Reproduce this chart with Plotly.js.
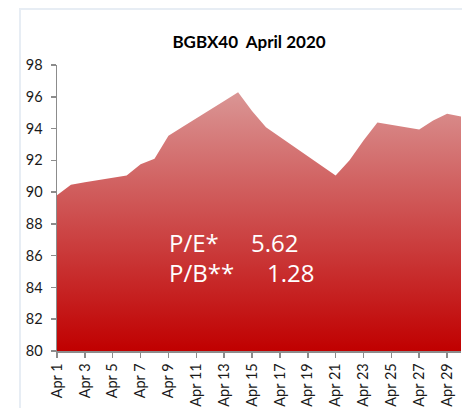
<!DOCTYPE html>
<html>
<head>
<meta charset="utf-8">
<script src="https://cdn.plot.ly/plotly-3.0.1.min.js"></script>
<style>
  html, body { margin: 0; padding: 0; background: #ffffff; }
  #wrap { position: relative; width: 462px; height: 408px; overflow: hidden; background: #ffffff; }
  #frame { position: absolute; left: 19px; top: 8px; width: 600px; height: 600px;
           border-left: 2px solid #e7edf4; border-top: 2px solid #e7edf4; }
  #chart { position: absolute; left: 0; top: 0; width: 462px; height: 408px; }
</style>
</head>
<body>
<div id="wrap">
  <div id="frame"></div>
  <div id="chart"></div>
</div>
<script>
// Trading days of April 2020 and BGBX40 closing values
const dates = ['2020-04-01','2020-04-02','2020-04-03','2020-04-06','2020-04-07','2020-04-08',
               '2020-04-09','2020-04-10','2020-04-13','2020-04-14','2020-04-15','2020-04-16',
               '2020-04-21','2020-04-22','2020-04-23','2020-04-24','2020-04-27','2020-04-28',
               '2020-04-29','2020-04-30'];
const values = [89.80, 90.47, 90.62, 91.05, 91.75, 92.10,
                93.55, 94.10, 95.73, 96.29, 95.10, 94.09,
                91.05, 92.00, 93.25, 94.38, 93.94, 94.51,
                94.93, 94.76];

// X tick positions and labels
const tickDates = ['2020-04-01','2020-04-03','2020-04-05','2020-04-07','2020-04-09','2020-04-11',
                   '2020-04-13','2020-04-15','2020-04-17','2020-04-19','2020-04-21','2020-04-23',
                   '2020-04-25','2020-04-27','2020-04-29'];
const tickLabels = ['Apr 1','Apr 3','Apr 5','Apr 7','Apr 9','Apr 11','Apr 13','Apr 15','Apr 17',
                    'Apr 19','Apr 21','Apr 23','Apr 25','Apr 27','Apr 29'];

// Valuation figures shown on the chart
const statLabels = ['P/E*', 'P/B**'];
const statValues = ['5.62', '1.28'];

const chartTitle = 'BGBX40  April 2020';

const trace = {
  type: 'scatter',
  x: dates,
  y: values,
  mode: 'none',
  fill: 'tozeroy',
  fillgradient: {
    type: 'vertical',
    start: 80,
    stop: 96.3,
    colorscale: [[0, '#c00000'], [0.5, '#cd4b4b'], [1, '#da9695']]
  },
  hoverinfo: 'x+y'
};

const statFont = { family: 'Open Sans, sans-serif', size: 24, color: '#ffffff' };
const statY = [0.381, 0.276];
const annotations = [];
statLabels.forEach((lab, i) => {
  annotations.push({ xref: 'paper', yref: 'paper', x: 0.272, y: statY[i], xanchor: 'left',
                     yanchor: 'middle', text: lab, showarrow: false, font: statFont });
});
const valX = [0.476, 0.515];
statValues.forEach((v, i) => {
  annotations.push({ xref: 'paper', yref: 'paper', x: valX[i], y: statY[i], xanchor: 'left',
                     yanchor: 'middle', text: v, showarrow: false, font: statFont });
});

const axisFont = { family: 'Lato, sans-serif', size: 14.5, color: '#1a1a1a' };

const layout = {
  width: 462,
  height: 408,
  margin: { l: 57, r: 1, t: 64.5, b: 57, pad: 0 },
  paper_bgcolor: 'rgba(0,0,0,0)',
  plot_bgcolor: 'rgba(0,0,0,0)',
  showlegend: false,
  title: {
    text: '<b>' + chartTitle + '</b>',
    font: { family: 'Lato, sans-serif', size: 17, color: '#000000' },
    x: 0.539, xanchor: 'center', xref: 'container',
    y: 0.897, yanchor: 'middle', yref: 'container'
  },
  xaxis: {
    type: 'date',
    range: ['2020-04-01', '2020-04-30'],
    tickmode: 'array',
    tickvals: tickDates,
    ticktext: tickLabels,
    tickangle: -90,
    ticks: 'outside',
    ticklen: 5,
    tickwidth: 1.5,
    tickcolor: '#8c8c8c',
    showline: true,
    linecolor: '#8c8c8c',
    linewidth: 1.5,
    showgrid: false,
    zeroline: false,
    tickfont: axisFont,
    fixedrange: true
  },
  yaxis: {
    range: [80, 98],
    tickmode: 'linear',
    tick0: 80,
    dtick: 2,
    ticks: 'outside',
    ticklen: 5,
    tickwidth: 1.5,
    tickcolor: '#8c8c8c',
    showline: true,
    linecolor: '#8c8c8c',
    linewidth: 1.5,
    showgrid: false,
    zeroline: false,
    tickfont: axisFont,
    ticklabelstandoff: 5,
    fixedrange: true
  },
  annotations: annotations
};

Plotly.newPlot('chart', [trace], layout, { displayModeBar: false, staticPlot: true });
</script>
</body>
</html>
